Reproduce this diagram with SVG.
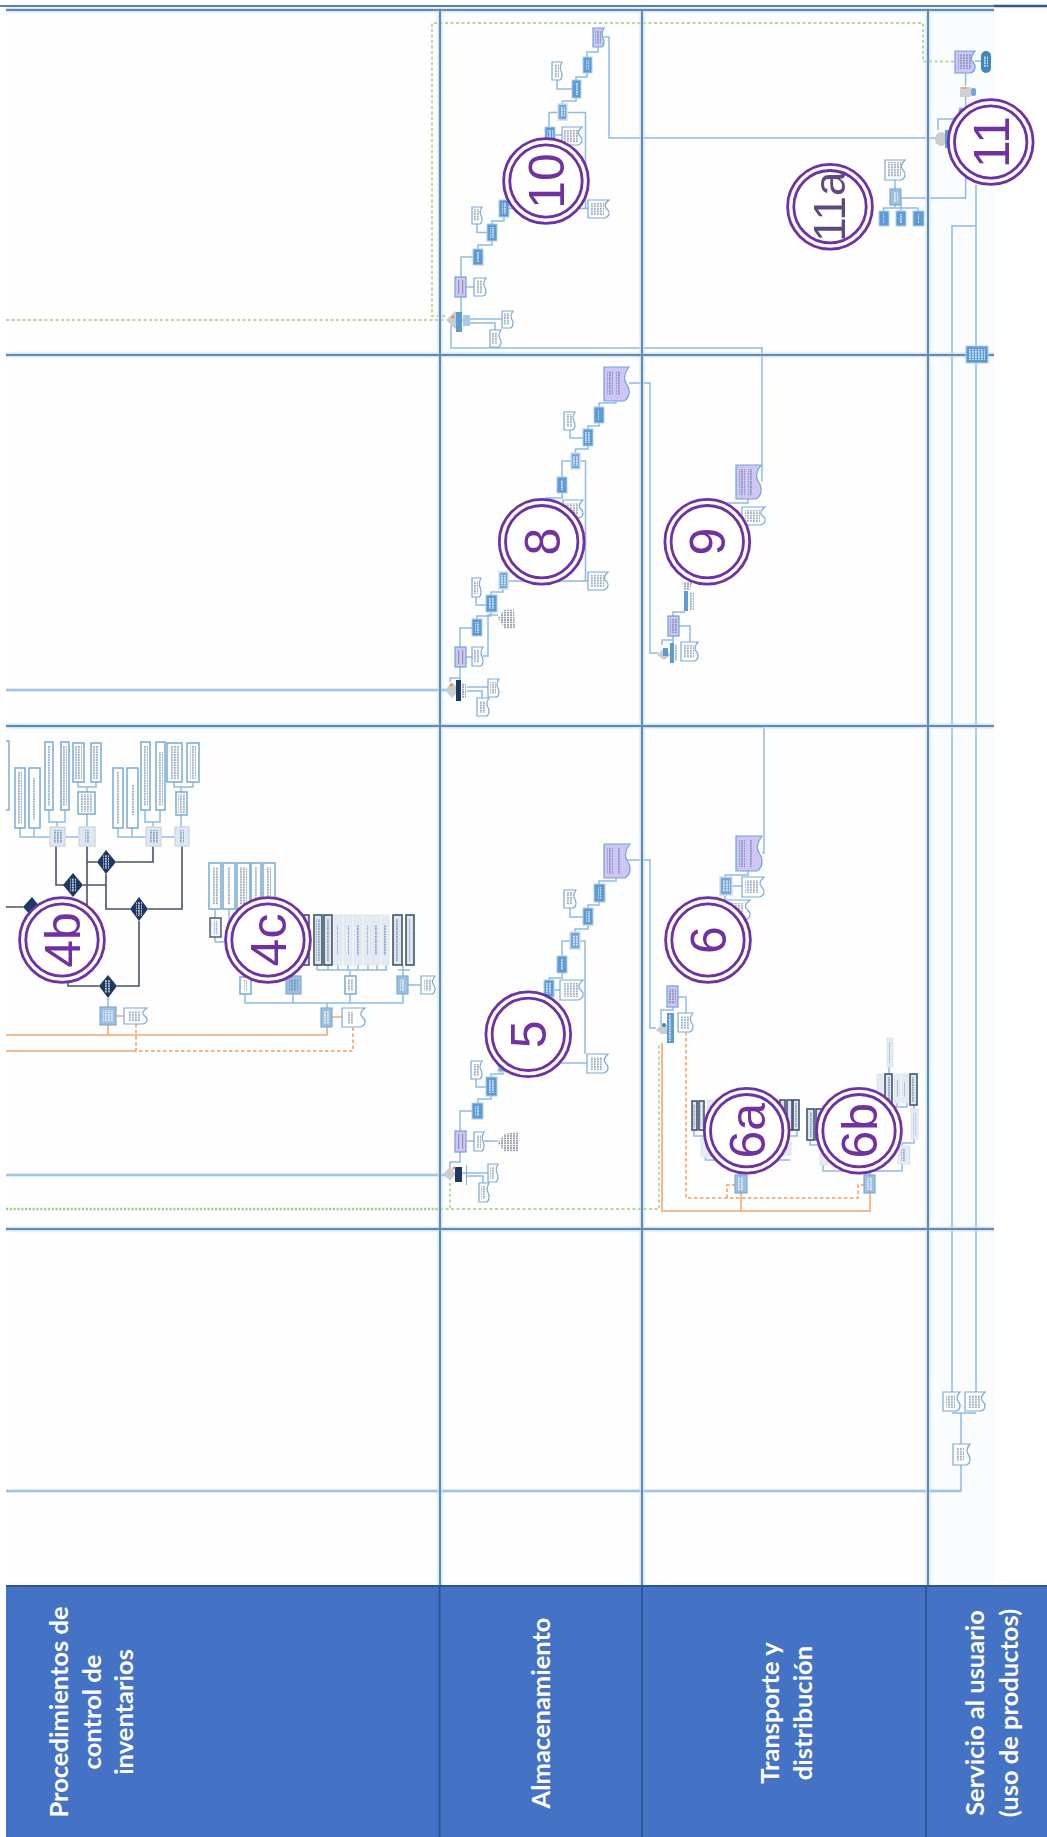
<svg xmlns="http://www.w3.org/2000/svg" width="1047" height="1837" viewBox="0 0 1047 1837">
<style>
.c,.cp,.cd,.co,.cod,.cg,.cg2,.gl,.gh{fill:none}
.c{stroke:#8FBBE2;stroke-width:1.5}
.cp{stroke:#D3E3F3;stroke-width:3.5}
.cd{stroke:#44546A;stroke-width:1.6}
.co{stroke:#F4A870;stroke-width:1.6}
.cod{stroke:#F4A060;stroke-width:1.6;stroke-dasharray:3.5 2.5}
.cg{stroke:#B2D99A;stroke-width:1.8;stroke-dasharray:3 2.5}
.cg2{stroke:#9CCF7C;stroke-width:2.6;stroke-dasharray:2.2 1.6}
.gl{stroke:#5B8DB8;stroke-width:2}
.gh{stroke:#C9DDEE;stroke-width:5}
.b{fill:#5B9BD5;stroke:#B4CFE8;stroke-width:1}
.bh{fill:#6FA8DC;stroke:#D9DDE2;stroke-width:1.5}
.p{fill:#CFC6F3;stroke:#6FA3D6;stroke-width:1.2}
.d{fill:#fff;stroke:#7BA9D3;stroke-width:1.2}
.dp{fill:#CFC6F3;stroke:#6FA3D6;stroke-width:1.2}
.t{fill:#fff;stroke:#7FAFD9;stroke-width:1.6}
.td{fill:#DCE6F1;stroke:#44546A;stroke-width:1.6}
.tg{fill:#E3ECF5;stroke:#E0E3E6;stroke-width:1}
.l{fill:#DCE9F5;stroke:#D8D8D8;stroke-width:1.5}
.s{fill:#9DC0E0;stroke:#7FAAD2;stroke-width:1.2}
.x{fill:url(#pd)}
.w{fill:url(#pw)}
.y{fill:url(#pg)}
.k{fill:#44546A;opacity:.45}
.gw{fill:#C9CDD2}
.bar{fill:#5B9BD5}
.barD{fill:#1F3864}
.dia{fill:#1F3864}
.or{fill:#F08A3C}
.ring circle{stroke:#7030A0;stroke-width:2.8;fill:none}
.ring circle.o{fill:#fff}
.ring text{font-family:"Liberation Sans",Arial,sans-serif;font-size:50px;fill:#7030A0;text-anchor:middle}
.h{font-family:Lato,"Liberation Sans",sans-serif;font-weight:700;font-size:25.5px;fill:#fff;text-anchor:middle}
</style>
<defs>
<path id="doc" vector-effect="non-scaling-stroke" d="M0 0H1C.75 .25 .8 .4 .9 .5C1.05 .65 1.05 .9 .8 1H0Z"/>
<pattern id="pd" width="3" height="2.6" patternUnits="userSpaceOnUse"><rect width="1.8" height="1.9" fill="#4F6F96" opacity=".55"/></pattern>
<pattern id="pw" width="3" height="2.6" patternUnits="userSpaceOnUse"><rect width="1.8" height="1.9" fill="#fff" opacity=".7"/></pattern>
<pattern id="pg" width="3" height="2.4" patternUnits="userSpaceOnUse"><rect width="2" height="1.7" fill="#7E8A96" opacity=".8"/></pattern>
<filter id="bl" x="-2%" y="-2%" width="104%" height="104%"><feGaussianBlur stdDeviation=".6"/></filter>
<filter id="bs" x="-5%" y="-5%" width="110%" height="110%"><feGaussianBlur stdDeviation=".25"/></filter>
</defs>
<rect width="1047" height="1837" fill="#fff"/>
<rect x="6" y="10" width="988" height="1576" fill="#FEFEFE"/>
<rect x="930" y="10" width="64" height="1576" fill="#FBFCFE"/>

<g id="connectors" filter="url(#bl)">
<path class="cp" d="M6 690H446M6 1175H446M6 1491H961"/>
<path class="c" d="M6 690H446M6 1175H446M6 1491H961V1465M642 727H764V853H762"/>
<path class="c" d="M961 1444V1413M952 1413H976M952 1392V226H976M976 1392V363M976 346V185"/>
<path class="c" d="M604 37H609V138H937M451 325V348H762V481"/>
<path class="c" d="M598 47V52H587V57M587 73V77H576V80M572 89H557V80M576 98V101H562.500V104M558 112.500H549V127M567 112.500H585.500V209M509 208.500H588M555 135H562M504 217V221H492V224M477 224V232.500H487M492 241V245H478V249M473 257H461V277M466 287H474M461 297V315M470 319H502M470 323H495V330"/>
<path class="c" d="M965.600 73V86M965.600 97V198H901M981 61H975M895 180V189M895 205V208H883.500V211M918 208V211M883.500 208H918M901 205V211M938 130V119H965"/>
<path class="c" d="M616 401V403H599V407M599 423V426H588V429M583 438H570V430M588 446V449H575.500V453M571 461H562V477M580 461H585.500V581M508 581H588M562 493V498H545M563 509H555M503 589V592H491V595M476 597V605H486M491 612V616H477V619M472 628H460V647M498 615H488V656H483M466 657H472M460 667V682M450 682V678H460M467 687H488M467 691H482V698"/>
<path class="c" d="M629 383H650V653H658M748 499V503H723M685 612H673V616M679 626H690V642M673 636V643M662 645V640H673"/>
<path class="c" d="M616 860H650V1028H656M748 871V875H725V877M732 886H742M725 895V900M678 997H686V1013M673 1007V1010H661V1025"/>
<path class="c" d="M616 878V881H599V884M599 902V905H588V908M583 917H570V908M588 925V929H575V932M570 941H562V956M580 941H585V1054M562 973V978H549V982M554 990H560M528 1063H587M503 1072V1074H491V1077M476 1079V1087H486M491 1096V1099H478V1103M472 1111H460V1131M466 1141H474M484 1141H498M460 1152V1162H450V1168M462 1173H488M466 1176H483V1183"/>
<path class="c" d="M694 1130V1136H705V1130M705 1136V1138M705.500 1157V1160H790M787 1155V1136M780 1136H797V1130M741 1160V1175M810 1140V1145H820V1140M823 1145V1153M823 1165V1171H902V1164M889 1067V1074M897 1103V1107H907V1103M885 1107H897M914 1105V1109M914 1139V1143H902V1146M870 1171V1175"/>
<path class="c" d="M20 828V837H50M34 828V837M49 810V822H65V810M57 822V827M65 837H79M78 782V787H96V782M87 787V792M87 814V827M118 828V837H146M132 828V837M145 810V822H160V810M153 822V827M161 837H175M174 782V787H193V782M181 787V792M181 815V827M108 998V1007"/>
<path class="c" d="M215 909V942H232M229 909V922M245 994V1003H403V994M293 970V1003M350 970V1003M403 965V1003M327 1003V1008M317 970H387M398 970H410M317 965V970M328 965V970M338 965V970M348 965V970M358 965V970M368 965V970M377 965V970M386 965V970M408 985H421"/>
<path class="cd" d="M56 846V885H64M87 846V905M87 862H97M116 862H153V846M83 885H106M106 874V909H130M148 909H182V846M6 907H23M117 986H139V921M99 986H68V978"/>
<path class="co" d="M6 1035H327V1027M108 1035V1025M116 1016H124M332 1017H342M6 1051H136"/>
<path class="cod" d="M136 1024V1051H353V1027"/>
<path class="co" d="M662 1043V1211H870V1193M741 1211V1193"/>
<path class="cod" d="M686 1032V1198H858V1185H864M727 1198V1185H735"/>
<path class="cg2" d="M6 1209H440"/>
<path class="cg" d="M6 320H446M440 1209H659V1043M450 1183V1209M445 316H432V23H923V61.500H956"/>
</g>

<g id="grid">
<path class="gh" d="M6 10H994M6 355H994M6 726H994M6 1229H994M440 10V1586M642 10V1586M928 10V1586" opacity=".7"/>
<path class="gl" d="M6 10H994M6 355H994M6 726H994M6 1229H994M440 10V1586M642 10V1586M928 10V1586"/>
<path d="M0 6H994" stroke="#2F5597" stroke-width="1.6" fill="none"/>
<path d="M994 6H1047" stroke="#2F5597" stroke-width="2.6" fill="none"/>
</g>

<g id="header">
<rect x="6" y="1586" width="1041" height="251" fill="#4472C4"/>
<path d="M6 1586H1047" stroke="#2F5597" stroke-width="2" fill="none"/>
<path d="M439.500 1586V1837M642 1586V1837M926 1586V1837" stroke="#2F5597" stroke-width="2" fill="none"/>
<text class="h" transform="translate(68 1712) rotate(-90)">Procedimientos de</text>
<text class="h" transform="translate(101 1712) rotate(-90)">control de</text>
<text class="h" transform="translate(133 1712) rotate(-90)">inventarios</text>
<text class="h" transform="translate(550 1713) rotate(-90)">Almacenamiento</text>
<text class="h" transform="translate(779 1713) rotate(-90)">Transporte y</text>
<text class="h" transform="translate(812 1713) rotate(-90)">distribución</text>
<text class="h" transform="translate(984 1713) rotate(-90)">Servicio al usuario</text>
<text class="h" transform="translate(1018 1713) rotate(-90)">(uso de productos)</text>
</g>

<g filter="url(#bl)">
<!-- section 10 -->
<g id="n10a"><use href="#doc" class="dp" transform="translate(593 28) scale(11 19)"/><rect class="x" x="595" y="31" width="6" height="13"/></g>
<g id="n10b"><rect class="b" x="583" y="57" width="9" height="16"/><rect class="w" x="586" y="60" width="3" height="10"/></g>
<g id="n10c"><use href="#doc" class="d" transform="translate(552 62) scale(10 18)"/><rect class="x" x="554" y="64" width="5" height="13"/></g>
<g id="n10d"><rect class="b" x="572" y="80" width="9" height="18"/><rect class="w" x="575" y="83" width="3" height="12"/></g>
<g id="n10e"><rect class="bh" x="558" y="104" width="9" height="16"/><rect class="w" x="560" y="107" width="5" height="10"/></g>
<g id="n10f"><rect class="b" x="545" y="127" width="10" height="16"/><rect class="w" x="547" y="130" width="6" height="10"/></g>
<g id="n10g"><use href="#doc" class="d" transform="translate(562 127) scale(20 18)"/><rect class="x" x="564" y="130" width="14" height="12"/></g>
<g id="n10h"><use href="#doc" class="d" transform="translate(588 200) scale(21 18)"/><rect class="x" x="591" y="203" width="13" height="12"/></g>
<g id="n10i"><rect class="b" x="499" y="200" width="10" height="17"/><rect class="w" x="502" y="203" width="4" height="11"/></g>
<g id="n10j"><use href="#doc" class="d" transform="translate(472 207) scale(10 17)"/><rect class="x" x="474" y="209" width="5" height="12"/></g>
<g id="n10k"><rect class="b" x="487" y="224" width="10" height="17"/><rect class="w" x="490" y="227" width="4" height="11"/></g>
<g id="n10l"><rect class="b" x="473" y="249" width="10" height="16"/><rect class="w" x="476" y="252" width="4" height="10"/></g>
<g id="n10m"><rect class="p" x="455" y="277" width="11" height="20"/><rect class="k" x="458" y="280" width="1.200" height="14"/><rect class="k" x="462" y="280" width="1.200" height="14"/></g>
<g id="n10n"><use href="#doc" class="d" transform="translate(474 278) scale(12 18)"/><rect class="x" x="476" y="280" width="6" height="13"/></g>
<g id="n10o"><polygon class="gw" points="446,320 455,311 464,320 455,329"/><rect class="bar" x="456" y="312" width="6" height="20"/><rect x="463" y="315" width="7" height="11" fill="#A9C9E6"/><circle class="or" cx="453" cy="317" r="1.500"/></g>
<g id="n10p"><use href="#doc" class="d" transform="translate(502 311) scale(11 17)"/><rect class="x" x="504" y="313" width="6" height="12"/></g>
<g id="n10q"><use href="#doc" class="d" transform="translate(490 330) scale(11 17)"/><rect class="x" x="492" y="332" width="6" height="12"/></g>

<!-- section 11 -->
<g id="n11a"><use href="#doc" class="dp" transform="translate(955 51) scale(20 22)"/><rect class="x" x="958" y="54" width="13" height="15"/></g>
<g id="n11b"><rect x="981" y="51" width="10" height="22" rx="5" fill="#3F86C2"/><rect class="w" x="984" y="56" width="4" height="11"/></g>
<g id="n11c"><rect x="960" y="87" width="11" height="10" fill="#D0D2D4"/><rect x="971" y="88" width="5" height="8" rx="2" fill="#6FA8DC"/><rect x="962" y="87" width="5" height="2" fill="#E9A47A"/></g>
<g id="n11d"><rect class="b" x="959" y="108" width="11" height="9"/></g>
<g id="n11e"><ellipse class="gw" cx="941" cy="139" rx="6" ry="7"/><rect class="bar" x="945" y="130" width="6" height="18"/></g>
<g id="n11f"><use href="#doc" class="d" transform="translate(885 160) scale(20 20)"/><rect class="x" x="888" y="162" width="13" height="15"/></g>
<g id="n11g"><rect class="s" x="890" y="189" width="11" height="16"/><rect class="w" x="893" y="192" width="5" height="10"/></g>
<g id="n11h"><rect class="b" x="879" y="211" width="10" height="15"/><rect class="w" x="883" y="214" width="2" height="9"/></g>
<g id="n11i"><rect class="b" x="896" y="211" width="10" height="15"/><rect class="w" x="900" y="214" width="2" height="9"/></g>
<g id="n11j"><rect class="b" x="913" y="211" width="11" height="15"/><rect class="w" x="917" y="214" width="2" height="9"/></g>
<g id="n11k"><rect class="b" x="966" y="346" width="22" height="17"/><rect class="w" x="969" y="349" width="16" height="11"/></g>
<g id="n11l"><use href="#doc" class="d" transform="translate(943 1392) scale(17 19)"/><rect class="x" x="946" y="1395" width="9" height="13"/></g>
<g id="n11m"><use href="#doc" class="d" transform="translate(965 1392) scale(20 19)"/><rect class="x" x="968" y="1395" width="12" height="13"/></g>
<g id="n11n"><use href="#doc" class="d" transform="translate(953 1444) scale(17 21)"/><rect class="x" x="956" y="1448" width="8" height="13"/></g>

<!-- section 8 -->
<g id="n8a"><use href="#doc" class="dp" transform="translate(604 367) scale(25 34)"/><rect class="x" x="607" y="371" width="6" height="24"/><rect class="x" x="616" y="371" width="4" height="24"/></g>
<g id="n8b"><rect class="b" x="594" y="407" width="10" height="16"/><rect class="w" x="598" y="410" width="2" height="10"/></g>
<g id="n8c"><use href="#doc" class="d" transform="translate(564 412) scale(11 18)"/><rect class="x" x="566" y="414" width="6" height="13"/></g>
<g id="n8d"><rect class="b" x="583" y="429" width="10" height="17"/><rect class="w" x="585" y="432" width="6" height="11"/></g>
<g id="n8e"><rect class="bh" x="571" y="453" width="9" height="16"/><rect class="w" x="573" y="456" width="5" height="10"/></g>
<g id="n8f"><rect class="b" x="557" y="477" width="10" height="16"/><rect class="w" x="560" y="480" width="4" height="10"/></g>
<g id="n8g"><rect class="b" x="545" y="500" width="10" height="16"/></g>
<g id="n8h"><use href="#doc" class="d" transform="translate(563 500) scale(20 18)"/><rect class="x" x="565" y="503" width="14" height="12"/></g>
<g id="n8i"><use href="#doc" class="d" transform="translate(588 572) scale(20 18)"/><rect class="x" x="591" y="575" width="13" height="12"/></g>
<g id="n8j"><rect class="bh" x="499" y="572" width="9" height="17"/><rect class="w" x="501" y="575" width="5" height="11"/></g>
<g id="n8k"><use href="#doc" class="d" transform="translate(472 578) scale(9 19)"/><rect class="x" x="473" y="581" width="5" height="13"/></g>
<g id="n8l"><rect class="b" x="486" y="595" width="11" height="17"/><rect class="w" x="489" y="598" width="5" height="11"/></g>
<g id="n8m"><rect class="b" x="472" y="619" width="10" height="17"/><rect class="w" x="475" y="622" width="4" height="11"/></g>
<g id="n8n"><polygon class="y" points="498,618 504,610 514,609 515,628 505,629"/></g>
<g id="n8o"><rect class="p" x="455" y="647" width="11" height="20"/><rect class="k" x="458" y="650" width="1.200" height="14"/><rect class="k" x="462" y="650" width="1.200" height="14"/></g>
<g id="n8p"><use href="#doc" class="d" transform="translate(472 647) scale(11 19)"/><rect class="x" x="474" y="650" width="6" height="13"/></g>
<g id="n8q"><polygon class="gw" points="445,690 452,682 460,690 452,698"/><rect class="barD" x="456" y="680" width="5" height="21"/><rect class="y" x="461" y="683" width="5" height="15"/><circle class="or" cx="451" cy="685" r="1.500"/></g>
<g id="n8r"><use href="#doc" class="d" transform="translate(488 679) scale(11 18)"/><rect class="x" x="490" y="682" width="6" height="12"/></g>
<g id="n8s"><use href="#doc" class="d" transform="translate(477 698) scale(12 18)"/><rect class="x" x="479" y="701" width="6" height="12"/></g>

<!-- section 9 -->
<g id="n9a"><use href="#doc" class="dp" transform="translate(736 465) scale(25 34)"/><rect class="x" x="739" y="469" width="6" height="26"/><rect class="x" x="748" y="469" width="4" height="26"/></g>
<g id="n9b"><use href="#doc" class="d" transform="translate(742 507) scale(23 18)"/><rect class="x" x="745" y="510" width="15" height="12"/></g>
<g id="n9c"><polygon class="y" points="682,582 692,582 690,590 684,590"/></g>
<g id="n9d"><rect class="bar" x="684" y="591" width="4" height="20"/><rect class="w" x="688" y="591" width="1" height="20"/><rect class="x" x="689" y="592" width="5" height="18"/></g>
<g id="n9e"><rect class="p" x="668" y="616" width="11" height="20"/><rect class="x" x="670" y="619" width="7" height="14"/></g>
<g id="n9f"><use href="#doc" class="d" transform="translate(681 642) scale(17 19)"/><rect class="x" x="684" y="645" width="10" height="13"/></g>
<g id="n9g"><polygon class="gw" points="657,655 664,648 671,655 664,660"/><rect class="bar" x="663" y="648" width="5" height="8"/><rect class="bar" x="670" y="643" width="4" height="20"/><rect class="x" x="674" y="645" width="3" height="16"/></g>

<!-- section 6 -->
<g id="n6a"><use href="#doc" class="dp" transform="translate(736 836) scale(26 35)"/><rect class="x" x="739" y="840" width="6" height="27"/><rect class="x" x="749" y="840" width="4" height="27"/></g>
<g id="n6b"><rect class="bh" x="720" y="877" width="12" height="18"/><rect class="w" x="722" y="880" width="8" height="12"/></g>
<g id="n6c"><use href="#doc" class="d" transform="translate(742 877) scale(22 20)"/><rect class="x" x="745" y="880" width="14" height="13"/></g>
<g id="n6d"><use href="#doc" class="d" transform="translate(725 900) scale(25 20)"/><rect class="x" x="728" y="903" width="15" height="14"/></g>
<g id="n6e"><rect class="p" x="667" y="986" width="11" height="21"/><rect class="x" x="669" y="989" width="7" height="15"/></g>
<g id="n6f"><use href="#doc" class="d" transform="translate(678 1013) scale(15 19)"/><rect class="x" x="680" y="1016" width="9" height="13"/></g>
<g id="n6g"><polygon class="gw" points="656,1030 661,1025 668,1025 668,1034 661,1034"/><rect class="bar" x="667" y="1013" width="7" height="30"/><rect class="w" x="669" y="1015" width="3" height="26"/><circle cx="664" cy="1025" r="2" fill="#3F7FBF"/></g>

<!-- section 6a, 6b -->
<g id="n6a1"><rect class="td" x="692" y="1101" width="5" height="29"/><rect class="x" x="693.500" y="1104" width="2" height="23"/></g>
<g id="n6a2"><rect class="td" x="699" y="1101" width="5" height="29"/><rect class="x" x="700.500" y="1104" width="2" height="23"/></g>
<g id="n6a3"><rect class="tg" x="707" y="1100" width="6" height="30"/></g>
<g id="n6a4"><rect class="td" x="780" y="1100" width="5" height="30"/></g>
<g id="n6a5"><rect class="td" x="787" y="1100" width="5" height="30"/></g>
<g id="n6a6"><rect class="td" x="793" y="1100" width="6" height="30"/><rect class="x" x="795" y="1103" width="2" height="24"/></g>
<g id="n6a7"><rect class="tg" x="701" y="1138" width="9" height="19"/></g>
<g id="n6a8"><rect class="tg" x="783" y="1142" width="8" height="13"/></g>
<g id="n6a9"><rect class="s" x="735" y="1175" width="12" height="18"/><rect class="w" x="738" y="1178" width="6" height="12"/></g>
<g id="n6b1"><rect class="td" x="807" y="1109" width="7" height="31"/><rect class="x" x="809" y="1112" width="3" height="25"/></g>
<g id="n6b2"><rect class="td" x="816" y="1109" width="6" height="31"/></g>
<g id="n6b3"><rect class="tg" x="820" y="1153" width="7" height="12"/></g>
<g id="n6b4"><rect class="tg" x="898" y="1146" width="12" height="18"/><rect class="x" x="901" y="1149" width="5" height="12"/></g>
<g id="n6b5"><rect class="tg" x="877" y="1074" width="6" height="29"/></g>
<g id="n6b6"><rect class="td" x="885" y="1074" width="7" height="29"/><rect class="x" x="887" y="1077" width="3" height="23"/></g>
<g id="n6b7"><rect class="tg" x="894" y="1074" width="6" height="29"/><rect class="x" x="896" y="1080" width="2" height="17"/></g>
<g id="n6b8"><rect class="tg" x="902" y="1074" width="6" height="29"/><rect class="x" x="904" y="1082" width="2" height="15"/></g>
<g id="n6b9"><rect class="td" x="910" y="1074" width="7" height="31"/><rect class="x" x="912" y="1077" width="3" height="25"/></g>
<g id="n6b10"><rect class="tg" x="887" y="1038" width="6" height="29"/><rect class="x" x="889" y="1042" width="2" height="21"/></g>
<g id="n6b11"><rect class="tg" x="911" y="1109" width="7" height="30"/><rect class="x" x="913.500" y="1113" width="2" height="22"/></g>
<g id="n6b12"><rect class="s" x="864" y="1175" width="11" height="18"/><rect class="w" x="867" y="1178" width="5" height="12"/></g>

<!-- section 5 -->
<g id="n5b"><use href="#doc" class="dp" transform="translate(604 844) scale(26 34)"/><rect class="x" x="607" y="848" width="6" height="26"/><rect class="x" x="617" y="848" width="4" height="26"/></g>
<g id="n5c"><rect class="b" x="594" y="884" width="11" height="18"/><rect class="w" x="598" y="887" width="3" height="12"/></g>
<g id="n5d"><use href="#doc" class="d" transform="translate(564 890) scale(12 18)"/><rect class="x" x="566" y="892" width="6" height="13"/></g>
<g id="n5e"><rect class="b" x="583" y="908" width="10" height="17"/><rect class="w" x="586" y="911" width="4" height="11"/></g>
<g id="n5f"><rect class="bh" x="570" y="932" width="10" height="17"/><rect class="w" x="572" y="935" width="6" height="11"/></g>
<g id="n5g"><rect class="b" x="557" y="956" width="10" height="17"/><rect class="w" x="560" y="959" width="4" height="11"/></g>
<g id="n5h"><rect class="b" x="544" y="980" width="10" height="17"/><rect class="w" x="546" y="983" width="6" height="11"/></g>
<g id="n5i"><use href="#doc" class="d" transform="translate(560 980) scale(23 20)"/><rect class="x" x="563" y="983" width="15" height="14"/></g>
<g id="n5j"><use href="#doc" class="d" transform="translate(587 1054) scale(21 19)"/><rect class="x" x="590" y="1057" width="13" height="13"/></g>
<g id="n5k"><rect class="bh" x="498" y="1055" width="10" height="17"/></g>
<g id="n5l"><use href="#doc" class="d" transform="translate(471 1061) scale(11 18)"/><rect class="x" x="473" y="1064" width="6" height="12"/></g>
<g id="n5m"><rect class="b" x="486" y="1077" width="11" height="19"/><rect class="w" x="489" y="1080" width="5" height="13"/></g>
<g id="n5n"><rect class="b" x="472" y="1103" width="11" height="16"/><rect class="w" x="475" y="1106" width="5" height="10"/></g>
<g id="n5o"><rect class="p" x="455" y="1131" width="11" height="21"/><rect class="k" x="458" y="1134" width="1.200" height="15"/><rect class="k" x="462" y="1134" width="1.200" height="15"/></g>
<g id="n5p"><use href="#doc" class="d" transform="translate(474 1132) scale(10 19)"/><rect class="x" x="476" y="1135" width="5" height="13"/></g>
<g id="n5q"><polygon class="y" points="498,1143 504,1134 518,1132 518,1151 505,1152"/></g>
<g id="n5r"><polygon class="gw" points="443,1174 450,1167 456,1174 450,1181"/><rect class="barD" x="455" y="1167" width="7" height="15"/><rect x="466" y="1165" width=".9" height="20" fill="#7BA9D3"/><circle class="or" cx="454" cy="1168" r="1.500"/></g>
<g id="n5s"><use href="#doc" class="d" transform="translate(488 1164) scale(10 18)"/><rect class="x" x="490" y="1167" width="5" height="12"/></g>
<g id="n5t"><use href="#doc" class="d" transform="translate(479 1183) scale(10 19)"/><rect class="x" x="481" y="1186" width="5" height="13"/></g>

<!-- section 4b -->
<g id="n4b1"><path d="M6 741H9V810H6" fill="#fff" stroke="#7FAFD9" stroke-width="1.500"/></g>
<g id="n4b2"><rect class="t" x="15" y="768" width="10" height="60"/><rect class="x" x="18" y="772" width="4" height="52"/></g>
<g id="n4b3"><rect class="t" x="29" y="768" width="11" height="60"/><rect class="x" x="33" y="778" width="3" height="42"/></g>
<g id="n4b4"><rect class="t" x="45" y="742" width="8" height="68"/><rect class="x" x="47" y="746" width="4" height="60"/></g>
<g id="n4b5"><rect class="t" x="61" y="742" width="8" height="68"/><rect class="x" x="63" y="746" width="4" height="60"/></g>
<g id="n4b6"><rect class="t" x="73" y="743" width="11" height="39"/><rect class="x" x="75" y="746" width="7" height="33"/></g>
<g id="n4b7"><rect class="t" x="91" y="743" width="10" height="39"/><rect class="x" x="93" y="746" width="6" height="33"/></g>
<g id="n4b8"><rect class="t" x="78" y="792" width="17" height="22"/><rect class="x" x="80" y="794" width="13" height="18"/></g>
<g id="n4b9"><rect class="l" x="50" y="827" width="15" height="19"/><rect class="x" x="53" y="830" width="9" height="13"/></g>
<g id="n4b10"><rect class="l" x="79" y="827" width="16" height="19"/><rect class="x" x="85" y="830" width="4" height="13"/></g>
<g id="n4b11"><rect class="t" x="113" y="768" width="10" height="60"/><rect class="x" x="116" y="772" width="4" height="52"/></g>
<g id="n4b12"><rect class="t" x="127" y="768" width="11" height="60"/><rect class="x" x="131" y="785" width="3" height="30"/></g>
<g id="n4b13"><rect class="t" x="141" y="742" width="9" height="68"/><rect class="x" x="143" y="746" width="5" height="60"/></g>
<g id="n4b14"><rect class="t" x="156" y="742" width="9" height="68"/><rect class="x" x="158" y="752" width="5" height="54"/></g>
<g id="n4b15"><rect class="t" x="167" y="743" width="15" height="39"/><rect class="x" x="170" y="746" width="9" height="33"/></g>
<g id="n4b16"><rect class="t" x="187" y="743" width="12" height="39"/><rect class="x" x="190" y="746" width="6" height="33"/></g>
<g id="n4b17"><rect class="t" x="176" y="792" width="11" height="23"/><rect class="x" x="178" y="794" width="7" height="19"/></g>
<g id="n4b18"><rect class="l" x="146" y="827" width="15" height="19"/><rect class="x" x="149" y="830" width="9" height="13"/></g>
<g id="n4b19"><rect class="l" x="175" y="827" width="14" height="19"/><rect class="x" x="180" y="830" width="4" height="13"/></g>
<g id="n4bd1"><polygon class="dia" points="106,850 116,862 106,874 97,862"/><rect class="w" x="103" y="855" width="6" height="14"/></g>
<g id="n4bd2"><polygon class="dia" points="73,873 83,885 73,897 63,885"/><rect class="w" x="70" y="878" width="6" height="14"/></g>
<g id="n4bd3"><polygon class="dia" points="139,897 148,909 139,921 130,909"/><rect class="w" x="136" y="902" width="6" height="14"/></g>
<g id="n4bd4"><polygon class="dia" points="32,897 40,907 32,917 23,907"/></g>
<g id="n4bd5"><polygon class="dia" points="108,975 117,986 108,998 99,986"/><rect class="w" x="105" y="980" width="6" height="13"/></g>
<g id="n4b20"><rect class="s" x="100" y="1007" width="16" height="18"/><rect class="w" x="103" y="1010" width="10" height="12"/></g>
<g id="n4b21"><use href="#doc" class="d" transform="translate(124 1008) scale(23 16)"/><rect class="x" x="128" y="1011" width="12" height="10"/></g>

<!-- section 4c -->
<g id="n4c1"><rect class="t" x="209" y="863" width="12" height="46"/><rect class="x" x="212" y="867" width="6" height="38"/></g>
<g id="n4c2"><rect class="t" x="223" y="863" width="12" height="46"/><rect class="x" x="227" y="867" width="4" height="38"/></g>
<g id="n4c3"><rect class="t" x="237" y="863" width="13" height="46"/><rect class="x" x="240" y="867" width="7" height="38"/></g>
<g id="n4c4"><rect class="t" x="251" y="863" width="10" height="46"/><rect class="x" x="254" y="867" width="4" height="38"/></g>
<g id="n4c5"><rect class="t" x="263" y="863" width="12" height="46"/><rect class="x" x="267" y="867" width="4" height="38"/></g>
<g id="n4c6"><rect x="210" y="918" width="11" height="19" fill="#EEF3F8" stroke="#44546A" stroke-width="1.400"/><rect class="x" x="214" y="921" width="3" height="13"/></g>
<g id="n4c7"><rect class="td" x="302" y="915" width="7" height="50"/></g>
<g id="n4c8"><rect class="td" x="314" y="915" width="8" height="50"/><rect class="x" x="316" y="919" width="4" height="42"/></g>
<g id="n4c9"><rect class="td" x="324" y="915" width="8" height="50"/><rect class="x" x="326" y="919" width="4" height="42"/></g>
<g id="n4c10"><rect class="tg" x="334" y="915" width="8" height="50"/><rect class="x" x="337" y="925" width="2" height="30"/></g>
<g id="n4c11"><rect class="tg" x="344" y="915" width="8" height="50"/><rect class="x" x="347" y="925" width="2" height="30"/></g>
<g id="n4c12"><rect class="tg" x="354" y="915" width="8" height="50"/><rect class="x" x="357" y="925" width="2" height="30"/></g>
<g id="n4c13"><rect class="tg" x="364" y="915" width="8" height="50"/><rect class="x" x="367" y="925" width="2" height="30"/></g>
<g id="n4c14"><rect class="tg" x="373" y="915" width="7" height="50"/><rect class="x" x="375" y="925" width="2" height="30"/></g>
<g id="n4c15"><rect class="tg" x="382" y="915" width="7" height="50"/><rect class="x" x="384" y="925" width="2" height="30"/></g>
<g id="n4c16"><rect class="td" x="393" y="915" width="9" height="50"/><rect class="x" x="396" y="919" width="3" height="42"/></g>
<g id="n4c17"><rect class="td" x="406" y="915" width="8" height="50"/><rect class="x" x="409" y="919" width="2" height="42"/></g>
<g id="n4c18"><rect class="t" x="240" y="977" width="11" height="17"/><rect class="x" x="244" y="980" width="3" height="11"/></g>
<g id="n4c19"><rect class="s" x="286" y="976" width="15" height="18"/><rect class="x" x="289" y="979" width="9" height="12"/></g>
<g id="n4c20"><rect class="t" x="345" y="976" width="11" height="18"/><rect class="x" x="348" y="979" width="5" height="12"/></g>
<g id="n4c21"><rect class="s" x="397" y="976" width="11" height="18"/><rect class="w" x="400" y="979" width="5" height="12"/></g>
<g id="n4c22"><use href="#doc" class="d" transform="translate(421 976) scale(14 18)"/><rect class="x" x="424" y="979" width="7" height="12"/></g>
<g id="n4c23"><rect class="s" x="321" y="1008" width="11" height="19"/><rect class="w" x="324" y="1011" width="5" height="13"/></g>
<g id="n4c24"><use href="#doc" class="d" transform="translate(342 1008) scale(23 19)"/><rect class="x" x="348" y="1012" width="6" height="12"/></g>
</g>

<g filter="url(#bs)">
<g id="c4b" class="ring" transform="translate(62 940)"><circle class="o" r="42.400"/><circle r="36.200"/><text transform="rotate(-90)" y="18">4b</text></g>
<g id="c4c" class="ring" transform="translate(268 940)"><circle class="o" r="42.400"/><circle r="36.200"/><text transform="rotate(-90)" y="18">4c</text></g>
<g id="c5" class="ring" transform="translate(528.300 1034.300)"><circle class="o" r="42.400"/><circle r="36.200"/><text transform="rotate(-90)" y="18">5</text></g>
<g id="c6" class="ring" transform="translate(708 940)"><circle class="o" r="42.400"/><circle r="36.200"/><text transform="rotate(-90)" y="18">6</text></g>
<g id="c6a" class="ring" transform="translate(746.700 1130.700)"><circle class="o" r="42.400"/><circle r="36.200"/><text transform="rotate(-90)" y="18">6a</text></g>
<g id="c6b" class="ring" transform="translate(859 1130.700)"><circle class="o" r="42.400"/><circle r="36.200"/><text transform="rotate(-90)" y="18">6b</text></g>
<g id="c8" class="ring" transform="translate(541.700 541.700)"><circle class="o" r="42.400"/><circle r="36.200"/><text transform="rotate(-90)" y="18">8</text></g>
<g id="c9" class="ring" transform="translate(707.300 541.700)"><circle class="o" r="42.400"/><circle r="36.200"/><text transform="rotate(-90)" y="18">9</text></g>
<g id="c10" class="ring" transform="translate(546 181)"><circle class="o" r="42.400"/><circle r="36.200"/><text transform="rotate(-90)" y="18">10</text></g>
<g id="c11a" class="ring" transform="translate(830 206.700)"><circle class="o" r="42.400"/><circle r="36.200"/><text transform="rotate(-90)" y="15" style="font-size:44px;fill:#604A7B">11a</text></g>
<g id="c11" class="ring" transform="translate(990.700 142)"><circle class="o" r="42.400"/><circle r="36.200"/><text transform="rotate(-90)" y="18">11</text></g>
</g>
</svg>
